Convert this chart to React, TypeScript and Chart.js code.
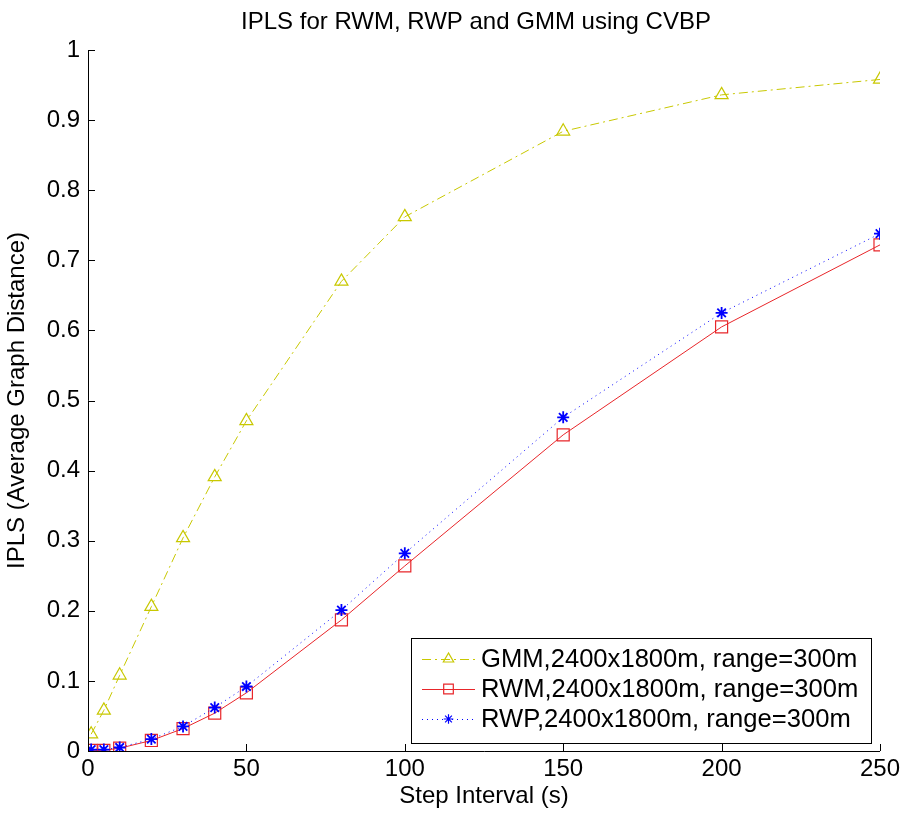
import React, { useEffect, useRef } from 'react';
import { Chart, registerables } from 'chart.js';

Chart.register(...registerables);

// ---- data ----
const stepIntervals = [1, 5, 10, 20, 30, 40, 50, 80, 100, 150, 200, 250];
const gmmValues = [0.024, 0.058, 0.108, 0.206, 0.304, 0.391, 0.471, 0.670, 0.762, 0.884, 0.936, 0.958];
const rwmValues = [0.001, 0.001, 0.004, 0.015, 0.032, 0.054, 0.083, 0.187, 0.264, 0.451, 0.605, 0.722];
const rwpValues = [0.002, 0.002, 0.005, 0.017, 0.035, 0.062, 0.092, 0.201, 0.282, 0.476, 0.625, 0.738];
const xTickValues = [0, 50, 100, 150, 200, 250];
const yTickValues = [0, 0.1, 0.2, 0.3, 0.4, 0.5, 0.6, 0.7, 0.8, 0.9, 1];
const yTickLabels = ['0', '0.1', '0.2', '0.3', '0.4', '0.5', '0.6', '0.7', '0.8', '0.9', '1'];
const seriesLabels = [
  'GMM,2400x1800m, range=300m',
  'RWM,2400x1800m, range=300m',
  'RWP,2400x1800m, range=300m',
];
const titleText = 'IPLS for RWM, RWP and GMM using CVBP';
const xTitle = 'Step Interval (s)';
const yTitle = 'IPLS (Average Graph Distance)';

const FONT = "'Liberation Sans', Arial, Helvetica, sans-serif";
const YELLOW = '#c8c800';
const RED = '#e8262a';
const BLUE = '#0000ff';

const styles = [
  { color: YELLOW, dash: [9, 4, 2, 4], point: 'triangle', radius: 7.5 },
  { color: RED, dash: [], point: 'rect', radius: 8.5 },
  { color: BLUE, dash: [1, 4], point: 'star', radius: 6 },
];

const axesPlugin = {
  id: 'matlabAxes',
  afterDraw(chart: any) {
    const { ctx, chartArea, scales } = chart;
    const { left, right, top, bottom } = chartArea;
    ctx.save();
    ctx.strokeStyle = '#000';
    ctx.lineWidth = 1;
    ctx.beginPath();
    ctx.moveTo(left + 0.5, top);
    ctx.lineTo(left + 0.5, bottom + 0.5);
    ctx.lineTo(right, bottom + 0.5);
    ctx.stroke();
    const tl = 7;
    ctx.beginPath();
    xTickValues.forEach((v) => {
      const x = Math.round(scales.x.getPixelForValue(v)) + 0.5;
      ctx.moveTo(x, bottom);
      ctx.lineTo(x, bottom - tl);
    });
    yTickValues.forEach((v) => {
      const y = Math.round(scales.y.getPixelForValue(v)) + 0.5;
      ctx.moveTo(left, y);
      ctx.lineTo(left + tl, y);
    });
    ctx.stroke();

    // title
    ctx.fillStyle = '#000';
    ctx.font = `24px ${FONT}`;
    ctx.textAlign = 'center';
    ctx.textBaseline = 'middle';
    ctx.fillText(titleText, (left + right) / 2 - 8, 22);
    ctx.restore();
  },
};

function drawMarker(ctx: CanvasRenderingContext2D, style: string, x: number, y: number, r: number, color: string) {
  ctx.save();
  ctx.strokeStyle = color;
  ctx.lineWidth = 1.2;
  ctx.setLineDash([]);
  ctx.beginPath();
  if (style === 'triangle') {
    const h = r * 1.5;
    const w = r * Math.sqrt(3);
    ctx.moveTo(x, y - r);
    ctx.lineTo(x - w / 2, y - r + h);
    ctx.lineTo(x + w / 2, y - r + h);
    ctx.closePath();
  } else if (style === 'rect') {
    const s = Math.SQRT1_2 * r;
    ctx.rect(x - s, y - s, 2 * s, 2 * s);
  } else {
    for (let k = 0; k < 4; k++) {
      const a = (k * Math.PI) / 4;
      ctx.moveTo(x + Math.cos(a) * r, y + Math.sin(a) * r);
      ctx.lineTo(x - Math.cos(a) * r, y - Math.sin(a) * r);
    }
  }
  ctx.stroke();
  ctx.restore();
}

const legendPlugin = {
  id: 'matlabLegend',
  afterDraw(chart: any) {
    const { ctx, chartArea } = chart;
    const boxW = 460;
    const boxH = 105;
    const bx = chartArea.right - 9 - boxW;
    const by = chartArea.bottom - 8 - boxH;
    ctx.save();
    ctx.fillStyle = '#fff';
    ctx.fillRect(bx, by, boxW, boxH);
    ctx.strokeStyle = '#000';
    ctx.lineWidth = 1;
    ctx.strokeRect(Math.round(bx) + 0.5, Math.round(by) + 0.5, boxW, boxH);
    ctx.font = `25.6px ${FONT}`;
    ctx.textAlign = 'left';
    ctx.textBaseline = 'middle';
    seriesLabels.forEach((label, i) => {
      const st = styles[i];
      const cy = by + 21 + i * 30;
      ctx.strokeStyle = st.color;
      ctx.lineWidth = 1;
      ctx.setLineDash(st.dash);
      ctx.beginPath();
      ctx.moveTo(bx + 11, cy + 0.5);
      ctx.lineTo(bx + 64, cy + 0.5);
      ctx.stroke();
      drawMarker(ctx, st.point, bx + 37.5, cy, st.radius * 0.8, st.color);
      ctx.fillStyle = '#000';
      ctx.fillText(label, bx + 70, cy + 1);
    });
    ctx.restore();
  },
};

export default function App() {
  const canvasRef = useRef<HTMLCanvasElement | null>(null);

  useEffect(() => {
    const canvas = canvasRef.current;
    if (!canvas) return;
    const seriesValues = [gmmValues, rwmValues, rwpValues];
    const chart = new Chart(canvas, {
      type: 'line',
      data: {
        datasets: seriesValues.map((vals, i) => ({
          label: seriesLabels[i],
          data: stepIntervals.map((x, j) => ({ x, y: vals[j] })),
          borderColor: styles[i].color,
          backgroundColor: 'rgba(0,0,0,0)',
          borderWidth: 1,
          borderDash: styles[i].dash,
          pointStyle: styles[i].point as any,
          pointRadius: styles[i].radius,
          pointBorderColor: styles[i].color,
          pointBackgroundColor: 'rgba(0,0,0,0)',
          pointBorderWidth: i === 2 ? 1.8 : 1.2,
          tension: 0,
          fill: false,
          order: 2 - i,
        })),
      },
      options: {
        animation: false,
        responsive: false,
        maintainAspectRatio: false,
        layout: { padding: { top: 50, right: 25, left: 0, bottom: 0 } },
        plugins: {
          legend: { display: false },
          tooltip: { enabled: false },
          title: { display: false },
        },
        scales: {
          x: {
            type: 'linear',
            min: 0,
            max: 250,
            afterFit: (s: any) => { s.height = 68; },
            afterBuildTicks: (s: any) => { s.ticks = xTickValues.map((v) => ({ value: v })); },
            grid: { display: false, drawTicks: false },
            border: { display: false },
            ticks: {
              padding: 4,
              color: '#000',
              font: { family: FONT, size: 24 },
              maxRotation: 0,
              callback: (v: any) => String(v),
            },
            title: {
              display: true,
              text: xTitle,
              color: '#000',
              font: { family: FONT, size: 24 },
              padding: { top: 0, bottom: 8 },
            },
          },
          y: {
            type: 'linear',
            min: 0,
            max: 1,
            afterFit: (s: any) => { s.width = 88; },
            afterBuildTicks: (s: any) => { s.ticks = yTickValues.map((v) => ({ value: v })); },
            grid: { display: false, drawTicks: false },
            border: { display: false },
            ticks: {
              padding: 8,
              color: '#000',
              font: { family: FONT, size: 24 },
              callback: (v: any) => {
                const idx = yTickValues.findIndex((t) => Math.abs(t - v) < 1e-9);
                return idx >= 0 ? yTickLabels[idx] : '';
              },
            },
            title: {
              display: true,
              text: yTitle,
              color: '#000',
              font: { family: FONT, size: 24 },
              padding: { top: 3, bottom: 0 },
            },
          },
        },
      },
      plugins: [axesPlugin, legendPlugin],
    });
    return () => chart.destroy();
  }, []);

  return (
    <div style={{ position: 'absolute', left: 0, top: 0, width: 905, height: 819, background: '#fff' }}>
      <canvas ref={canvasRef} width={905} height={819} style={{ width: 905, height: 819, display: 'block' }} />
    </div>
  );
}
